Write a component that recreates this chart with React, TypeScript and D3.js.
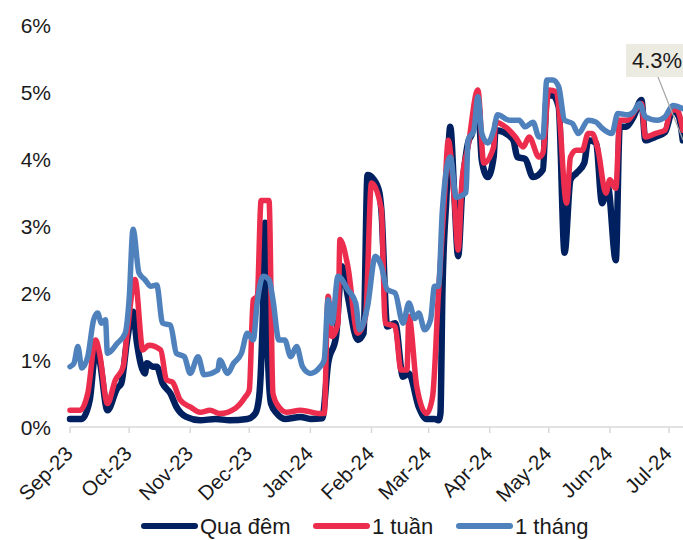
import { useEffect, useRef } from 'react'
import * as d3 from 'd3'

type Pt = [string, number]

const MONTH_STARTS = [
  '2023-09-01', '2023-10-01', '2023-11-01', '2023-12-01', '2024-01-01', '2024-02-01',
  '2024-03-01', '2024-04-01', '2024-05-01', '2024-06-01', '2024-07-01',
]
const Y_TICKS = [0, 1, 2, 3, 4, 5, 6]

// Qua đêm (overnight)
const quaDem: Pt[] = [
  ['2023-09-01', 0.12], ['2023-09-07', 0.12], ['2023-09-11', 0.4], ['2023-09-14', 1.12],
  ['2023-09-16', 1.0], ['2023-09-20', 0.25], ['2023-09-25', 0.58], ['2023-09-27', 0.65],
  ['2023-09-30', 1.3], ['2023-10-03', 1.72], ['2023-10-05', 1.25], ['2023-10-09', 0.8],
  ['2023-10-10', 0.95], ['2023-10-13', 0.9], ['2023-10-15', 0.9], ['2023-10-18', 0.65],
  ['2023-10-22', 0.5], ['2023-10-25', 0.3], ['2023-10-30', 0.15], ['2023-11-06', 0.1],
  ['2023-11-14', 0.12], ['2023-11-21', 0.1], ['2023-11-30', 0.12], ['2023-12-04', 0.2],
  ['2023-12-06', 0.45], ['2023-12-08', 1.8], ['2023-12-09', 3.05], ['2023-12-10', 1.5],
  ['2023-12-12', 0.35], ['2023-12-15', 0.2], ['2023-12-19', 0.12], ['2023-12-27', 0.15],
  ['2024-01-01', 0.12], ['2024-01-07', 0.13], ['2024-01-10', 0.95], ['2024-01-14', 1.35],
  ['2024-01-17', 2.4], ['2024-01-20', 1.95], ['2024-01-25', 1.3], ['2024-01-28', 1.4],
  ['2024-01-30', 3.76], ['2024-02-02', 3.7], ['2024-02-05', 3.5], ['2024-02-06', 3.25],
  ['2024-02-09', 1.5], ['2024-02-13', 1.55], ['2024-02-17', 0.75], ['2024-02-20', 0.8],
  ['2024-02-25', 0.3], ['2024-02-29', 0.12], ['2024-03-04', 0.12], ['2024-03-06', 0.1],
  ['2024-03-07', 0.2], ['2024-03-08', 2.0], ['2024-03-10', 3.4], ['2024-03-12', 4.48],
  ['2024-03-14', 3.5], ['2024-03-16', 2.55], ['2024-03-18', 3.5], ['2024-03-21', 4.24],
  ['2024-03-23', 4.38], ['2024-03-26', 4.88], ['2024-03-28', 3.98], ['2024-03-31', 3.73],
  ['2024-04-03', 4.03], ['2024-04-04', 4.43], ['2024-04-08', 4.4], ['2024-04-13', 4.28],
  ['2024-04-15', 4.03], ['2024-04-19', 4.0], ['2024-04-23', 3.73], ['2024-04-28', 3.84],
  ['2024-04-30', 4.93], ['2024-05-03', 4.95], ['2024-05-06', 4.78], ['2024-05-09', 2.6],
  ['2024-05-12', 3.69], ['2024-05-15', 3.79], ['2024-05-19', 3.94], ['2024-05-21', 4.28],
  ['2024-05-25', 4.24], ['2024-05-28', 3.34], ['2024-05-31', 3.58], ['2024-06-04', 2.49],
  ['2024-06-06', 4.48], ['2024-06-09', 4.48], ['2024-06-13', 4.63], ['2024-06-17', 4.88],
  ['2024-06-19', 4.28], ['2024-06-24', 4.33], ['2024-06-29', 4.4], ['2024-07-03', 4.73],
  ['2024-07-06', 4.63], ['2024-07-08', 4.28],
]

// 1 tuần (1 week)
const motTuan: Pt[] = [
  ['2023-09-01', 0.25], ['2023-09-06', 0.25], ['2023-09-10', 0.5], ['2023-09-14', 1.3],
  ['2023-09-16', 1.1], ['2023-09-20', 0.35], ['2023-09-24', 0.7], ['2023-09-28', 0.9],
  ['2023-09-30', 1.4], ['2023-10-04', 2.2], ['2023-10-08', 1.15], ['2023-10-11', 1.22],
  ['2023-10-17', 1.15], ['2023-10-20', 0.7], ['2023-10-23', 0.67], ['2023-10-27', 0.4],
  ['2023-11-01', 0.3], ['2023-11-06', 0.22], ['2023-11-11', 0.25], ['2023-11-16', 0.2],
  ['2023-11-24', 0.28], ['2023-11-29', 0.45], ['2023-12-01', 0.55], ['2023-12-03', 1.9],
  ['2023-12-05', 1.95], ['2023-12-07', 3.38], ['2023-12-11', 3.38], ['2023-12-13', 0.5],
  ['2023-12-16', 0.3], ['2023-12-20', 0.22], ['2023-12-27', 0.25], ['2024-01-06', 0.2],
  ['2024-01-08', 0.2], ['2024-01-10', 1.95], ['2024-01-12', 1.35], ['2024-01-15', 1.55],
  ['2024-01-16', 2.8], ['2024-01-20', 2.4], ['2024-01-25', 1.4], ['2024-01-29', 1.65],
  ['2024-02-01', 3.64], ['2024-02-06', 3.25], ['2024-02-08', 1.55], ['2024-02-13', 1.5],
  ['2024-02-16', 0.85], ['2024-02-19', 0.85], ['2024-02-20', 1.65], ['2024-02-24', 0.6],
  ['2024-02-29', 0.2], ['2024-03-03', 0.45], ['2024-03-06', 2.0], ['2024-03-09', 3.4],
  ['2024-03-11', 4.28], ['2024-03-14', 3.4], ['2024-03-16', 2.64], ['2024-03-18', 3.69],
  ['2024-03-21', 4.18], ['2024-03-26', 5.03], ['2024-03-29', 3.94], ['2024-04-03', 4.18],
  ['2024-04-04', 4.55], ['2024-04-09', 4.48], ['2024-04-14', 4.33], ['2024-04-18', 4.18],
  ['2024-04-21', 4.33], ['2024-04-26', 4.03], ['2024-04-28', 4.09], ['2024-05-01', 5.03],
  ['2024-05-05', 5.0], ['2024-05-06', 4.78], ['2024-05-10', 3.34], ['2024-05-12', 4.03],
  ['2024-05-15', 4.13], ['2024-05-18', 4.13], ['2024-05-21', 4.38], ['2024-05-23', 4.38],
  ['2024-05-26', 4.13], ['2024-05-30', 3.49], ['2024-06-01', 3.69], ['2024-06-04', 3.56],
  ['2024-06-06', 4.58], ['2024-06-10', 4.58], ['2024-06-14', 4.73], ['2024-06-17', 4.83],
  ['2024-06-19', 4.33], ['2024-06-24', 4.38], ['2024-06-29', 4.43], ['2024-07-02', 4.73],
  ['2024-07-05', 4.73], ['2024-07-08', 4.43],
]

// 1 tháng (1 month)
const motThang: Pt[] = [
  ['2023-09-01', 0.9], ['2023-09-03', 0.95], ['2023-09-05', 1.2], ['2023-09-07', 0.88],
  ['2023-09-10', 1.05], ['2023-09-13', 1.6], ['2023-09-15', 1.7], ['2023-09-17', 1.55],
  ['2023-09-19', 1.6], ['2023-09-20', 1.1], ['2023-09-25', 1.25], ['2023-09-29', 1.4],
  ['2023-10-01', 1.9], ['2023-10-03', 2.95], ['2023-10-06', 2.3], ['2023-10-09', 2.2],
  ['2023-10-12', 2.1], ['2023-10-15', 2.12], ['2023-10-18', 1.55], ['2023-10-22', 1.52],
  ['2023-10-25', 1.1], ['2023-10-29', 1.05], ['2023-11-01', 0.8], ['2023-11-05', 1.05],
  ['2023-11-08', 0.78], ['2023-11-15', 0.85], ['2023-11-16', 1.0], ['2023-11-20', 0.8],
  ['2023-11-23', 0.95], ['2023-11-27', 1.1], ['2023-11-30', 1.4], ['2023-12-03', 1.3],
  ['2023-12-05', 1.85], ['2023-12-08', 2.25], ['2023-12-11', 2.2], ['2023-12-13', 1.9],
  ['2023-12-16', 1.3], ['2023-12-19', 1.3], ['2023-12-22', 1.05], ['2023-12-25', 1.2],
  ['2023-12-28', 0.9], ['2024-01-01', 0.8], ['2024-01-06', 0.9], ['2024-01-08', 1.0],
  ['2024-01-10', 1.9], ['2024-01-12', 1.55], ['2024-01-15', 2.25], ['2024-01-20', 2.05],
  ['2024-01-24', 1.85], ['2024-01-26', 1.45], ['2024-01-30', 1.8], ['2024-02-03', 2.55],
  ['2024-02-06', 2.4], ['2024-02-09', 2.05], ['2024-02-13', 2.0], ['2024-02-17', 1.55],
  ['2024-02-20', 1.85], ['2024-02-23', 1.62], ['2024-02-25', 1.7], ['2024-02-28', 1.45],
  ['2024-03-02', 1.6], ['2024-03-04', 2.1], ['2024-03-06', 2.1], ['2024-03-08', 3.24],
  ['2024-03-12', 4.03], ['2024-03-15', 3.43], ['2024-03-20', 3.5], ['2024-03-21', 4.28],
  ['2024-03-24', 4.43], ['2024-03-26', 4.93], ['2024-03-28', 4.38], ['2024-03-31', 4.24],
  ['2024-04-03', 4.43], ['2024-04-05', 4.66], ['2024-04-11', 4.58], ['2024-04-16', 4.58],
  ['2024-04-19', 4.48], ['2024-04-23', 4.55], ['2024-04-26', 4.33], ['2024-04-28', 4.33],
  ['2024-04-30', 5.18], ['2024-05-03', 5.18], ['2024-05-06', 5.08], ['2024-05-09', 4.58],
  ['2024-05-13', 4.53], ['2024-05-16', 4.38], ['2024-05-21', 4.58], ['2024-05-25', 4.55],
  ['2024-05-28', 4.46], ['2024-06-02', 4.38], ['2024-06-05', 4.68], ['2024-06-10', 4.66],
  ['2024-06-13', 4.7], ['2024-06-16', 4.83], ['2024-06-19', 4.63], ['2024-06-25', 4.58],
  ['2024-06-29', 4.63], ['2024-07-03', 4.8], ['2024-07-08', 4.75],
]

const SERIES = [
  { name: 'Qua đêm', data: quaDem, color: '#00205f', width: 6.5 },
  { name: '1 tuần', data: motTuan, color: '#ec2d4e', width: 5.5 },
  { name: '1 tháng', data: motThang, color: '#4f81bd', width: 5.5 },
]
const LEGEND_X = [142, 314, 457]
const CALLOUT = '4.3%'

const W = 683
const H = 540
const FONT = '"Liberation Sans", Arial, sans-serif'

export default function App() {
  const svgRef = useRef<SVGSVGElement>(null)

  useEffect(() => {
    if (!svgRef.current) return
    const svg = d3.select(svgRef.current)
    svg.selectAll('*').remove()

    const parse = d3.timeParse('%Y-%m-%d')
    const x = d3
      .scaleTime()
      .domain([parse(MONTH_STARTS[0])!, parse(MONTH_STARTS[MONTH_STARTS.length - 1])!])
      .range([70, 669])
    const y = d3.scaleLinear().domain([0, 6]).range([427, 25])

    // y labels
    svg
      .selectAll('text.ylab')
      .data(Y_TICKS)
      .join('text')
      .attr('class', 'ylab')
      .attr('x', 51)
      .attr('y', (d) => y(d))
      .attr('dy', '0.36em')
      .attr('text-anchor', 'end')
      .attr('font-family', FONT)
      .attr('font-size', 21)
      .attr('fill', '#1a1a1a')
      .text((d) => `${d}%`)

    // x axis
    svg
      .append('line')
      .attr('x1', 70)
      .attr('x2', W)
      .attr('y1', y(0))
      .attr('y2', y(0))
      .attr('stroke', '#d9d9d9')
      .attr('stroke-width', 1.5)

    const ticks = MONTH_STARTS.map((s) => parse(s)!)
    svg
      .selectAll('line.xtick')
      .data(ticks)
      .join('line')
      .attr('class', 'xtick')
      .attr('x1', (d) => x(d))
      .attr('x2', (d) => x(d))
      .attr('y1', y(0))
      .attr('y2', y(0) + 6)
      .attr('stroke', '#d9d9d9')
      .attr('stroke-width', 1.5)

    svg
      .selectAll('text.xlab')
      .data(ticks)
      .join('text')
      .attr('class', 'xlab')
      .attr('transform', (d) => `translate(${x(d) + 4},${y(0) + 28}) rotate(-45)`)
      .attr('text-anchor', 'end')
      .attr('font-family', FONT)
      .attr('font-size', 20.5)
      .attr('fill', '#1a1a1a')
      .text((_, i) => d3.timeFormat('%b-%y')(ticks[i]))

    // lines
    const line = d3
      .line<Pt>()
      .x((d) => x(parse(d[0])!))
      .y((d) => y(d[1]))
      .curve(d3.curveMonotoneX)

    svg
      .append('clipPath')
      .attr('id', 'plot-clip')
      .append('rect')
      .attr('x', 0)
      .attr('y', 0)
      .attr('width', W)
      .attr('height', H)

    SERIES.forEach((s) => {
      svg
        .append('path')
        .attr('d', line(s.data))
        .attr('fill', 'none')
        .attr('stroke', s.color)
        .attr('stroke-width', s.width)
        .attr('stroke-linejoin', 'round')
        .attr('stroke-linecap', 'round')
        .attr('clip-path', 'url(#plot-clip)')
    })

    // callout
    svg
      .append('line')
      .attr('x1', 658)
      .attr('y1', 77)
      .attr('x2', 683)
      .attr('y2', 140)
      .attr('stroke', '#a6a6a6')
      .attr('stroke-width', 1.2)
    svg
      .append('rect')
      .attr('x', 626)
      .attr('y', 44)
      .attr('width', 60)
      .attr('height', 33)
      .attr('fill', '#ecebe2')
    svg
      .append('text')
      .attr('x', 632)
      .attr('y', 68)
      .attr('font-family', FONT)
      .attr('font-size', 22)
      .attr('fill', '#1a1a1a')
      .text(CALLOUT)

    // legend
    const lg = svg
      .selectAll('g.legend')
      .data(SERIES)
      .join('g')
      .attr('class', 'legend')
      .attr('transform', (_, i) => `translate(${LEGEND_X[i]},526)`)
    lg.append('line')
      .attr('x1', 2)
      .attr('x2', 53)
      .attr('stroke', (d) => d.color)
      .attr('stroke-width', 6)
      .attr('stroke-linecap', 'round')
    lg.append('text')
      .attr('x', 58)
      .attr('dy', '0.36em')
      .attr('font-family', FONT)
      .attr('font-size', 22)
      .attr('fill', '#1a1a1a')
      .text((d) => d.name)
  }, [])

  return (
    <>
      <style>{`body{margin:0}`}</style>
      <svg ref={svgRef} width={W} height={H} style={{ display: 'block', background: '#fff' }} />
    </>
  )
}
